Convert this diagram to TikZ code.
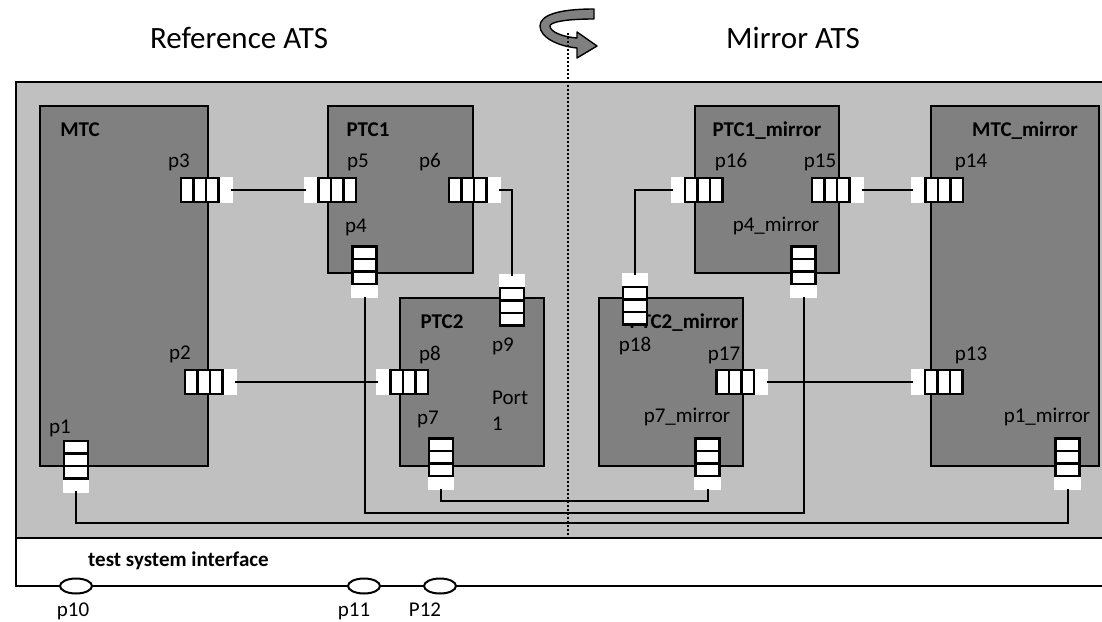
\documentclass[tikz,border=0pt]{standalone}
\usepackage{fontspec}
\setmainfont{Carlito}
\usetikzlibrary{calc,shapes.geometric}
\definecolor{bggray}{RGB}{192,192,192}
\definecolor{boxgray}{RGB}{128,128,128}
\tikzset{
  box/.style={draw, fill=boxgray, line width=2.7pt, anchor=north west, inner sep=0pt, outer sep=0pt},
  qh/.style={draw, fill=white, line width=2.2pt, minimum width=50pt, minimum height=24pt, inner sep=0pt, outer sep=0pt},
  qv/.style={qh, minimum width=24pt, minimum height=50pt},
  conn/.style={line width=2pt},
  lbl/.style={font=\fontsize{21}{25}\selectfont, anchor=base, inner sep=0pt},
  ttl/.style={font=\fontsize{21}{25}\selectfont\bfseries, anchor=base, inner sep=0pt},
  big/.style={font=\fontsize{31}{37}\selectfont, anchor=base, inner sep=0pt},
  extport/.style={draw, fill=white, ellipse, line width=2pt, minimum width=32pt, minimum height=15pt, inner sep=0pt},
}
\newcommand{\hq}[4]{%
  \node[qh] (#1) at (#2,#3) {};
  \foreach \k in {-12.5,0,12.5}{\draw[line width=2.2pt] ([xshift=\k pt]#1.north) -- ([xshift=\k pt]#1.south);}
  \fill[white] ([xshift={(#4)*13.6pt}, yshift=1.2pt]#1.north) rectangle ([xshift={(#4)*26.6pt}, yshift=-1.2pt]#1.south);
}
\newcommand{\vq}[4]{%
  \node[qv] (#1) at (#2,#3) {};
  \foreach \k in {-12.5,0,12.5}{\draw[line width=2.2pt] ([yshift=\k pt]#1.west) -- ([yshift=\k pt]#1.east);}
  \fill[white] ([yshift={-(#4)*13.6pt}, xshift=-1.2pt]#1.west) rectangle ([yshift={-(#4)*26.6pt}, xshift=1.2pt]#1.east);
}
\begin{document}
\begin{tikzpicture}[x=1pt, y=-1pt]
\useasboundingbox (0,0) rectangle (1102,621);
\clip (0,0) rectangle (1102,621);
% top labels
\node[big] (refats) at (239,48) {Reference ATS};
\node[big] (mirats) at (793,48) {Mirror ATS};
% background
\fill[bggray] (16,82) rectangle (1110,538);
\draw[line width=2.7pt] (1110,82) -- (16,82) -- (16,586) -- (1110,586);
\draw[line width=2.7pt] (16,538) -- (1110,538);
% rotation arrow
\draw[line width=1.4pt, fill=boxgray, line join=round]
  (594,9) .. controls (556,9) and (540,16) .. (540,26)
  .. controls (540,37) and (557,46) .. (577,48)
  -- (577,58) -- (597,46) -- (577,32) -- (577,38)
  .. controls (563,37) and (550,32) .. (550,26)
  .. controls (550,22) and (566,19) .. (594,19) -- cycle;
% boxes
\node[box, minimum width=168pt, minimum height=360pt] (MTC) at (40,106) {};
\node[box, minimum width=145pt, minimum height=167pt] (PTC1) at (328,106) {};
\node[box, minimum width=144pt, minimum height=168pt] (PTC2) at (400,298) {};
\node[box, minimum width=144pt, minimum height=167pt] (PTC1m) at (695,106) {};
\node[box, minimum width=168pt, minimum height=360pt] (MTCm) at (931,106) {};
\node[box, minimum width=144pt, minimum height=168pt] (PTC2m) at (599,298) {};
% box titles
\node[ttl] (tMTC) at (80,136) {MTC};
\node[ttl] (tPTC1) at (368,136) {PTC1};
\node[ttl] (tPTC2) at (442,328) {PTC2};
\node[ttl] (tPTC1m) at (767,136) {PTC1\_mirror};
\node[ttl] (tMTCm) at (1025,136) {MTC\_mirror};
\node[ttl] (tPTC2m) at (684,328) {PTC2\_mirror};
% port labels
\node[lbl] (l3) at (179,167) {p3};
\node[lbl] (l5) at (358,167) {p5};
\node[lbl] (l6) at (430,167) {p6};
\node[lbl] (l4) at (356,232) {p4};
\node[lbl] (l2) at (180,359) {p2};
\node[lbl] (l1) at (60,433) {p1};
\node[lbl] (l8) at (430,360) {p8};
\node[lbl] (l9) at (503,351) {p9};
\node[lbl, anchor=base west] (lport) at (492,404) {Port};
\node[lbl, anchor=base west] (lone) at (492,430) {1};
\node[lbl] (l7) at (428,424) {p7};
\node[lbl] (l16) at (731,167) {p16};
\node[lbl] (l15) at (820,167) {p15};
\node[lbl] (l14) at (971,167) {p14};
\node[lbl] (l4m) at (776,231) {p4\_mirror};
\node[lbl] (l18) at (635,351) {p18};
\node[lbl] (l17) at (724,360) {p17};
\node[lbl] (l13) at (971,360) {p13};
\node[lbl] (l7m) at (687,422) {p7\_mirror};
\node[lbl] (l1m) at (1047,422) {p1\_mirror};
% ports
\hq{p3}{206}{190}{1}
\hq{p5}{331}{190}{-1}
\hq{p6}{474}{190}{1}
\vq{p4}{364.5}{271.5}{1}
\vq{p9}{512}{300.5}{-1}
\hq{p2}{210}{382}{1}
\hq{p8}{403}{382}{-1}
\vq{p7}{441}{463.5}{1}
\vq{p1}{76}{466}{1}
\hq{p16}{697.5}{190}{-1}
\hq{p15}{837}{190}{1}
\hq{p14}{938}{190}{-1}
\vq{p4m}{803.5}{271.5}{1}
\vq{p18}{635}{299.5}{-1}
\hq{p17}{741.5}{382}{1}
\hq{p13}{937.5}{382}{-1}
\vq{p7m}{707.5}{463.5}{1}
\vq{p1m}{1067.5}{463.5}{1}
% level coordinates
\coordinate (y7) at (0,501);
\coordinate (y4) at (0,513);
\coordinate (y1) at (0,523);
% connectors
\draw[conn] (p3.east) -- (p5.west);
\draw[conn] (p6.east) -| (p9.north);
\draw[conn] (p2.east) -- (p8.west);
\draw[conn] (p16.west) -| (p18.north);
\draw[conn] (p15.east) -- (p14.west);
\draw[conn] (p17.east) -- (p13.west);
\draw[conn] (p7.south) -- (p7.south |- y7) -| (p7m.south);
\draw[conn] (p4.south) -- (p4.south |- y4) -| (p4m.south);
\draw[conn] (p1.south) -- (p1.south |- y1) -| (p1m.south);
% rotation axis
\coordinate (axtop) at (568,33);
\coordinate (axbot) at (568,537);
\draw[line width=2pt, dash pattern=on 2pt off 2pt] (axtop) -- (axbot);
% test system interface
\node[ttl, anchor=base west] (tsi) at (88,566) {test system interface};
\node[extport] (e10) at (76,586) {};
\node[extport] (e11) at (364,586) {};
\node[extport] (e12) at (440,586) {};
\node[lbl] (l10) at (73,616) {p10};
\node[lbl] (l11) at (354,616) {p11};
\node[lbl] (l12) at (425,616) {P12};
\end{tikzpicture}
\end{document}
